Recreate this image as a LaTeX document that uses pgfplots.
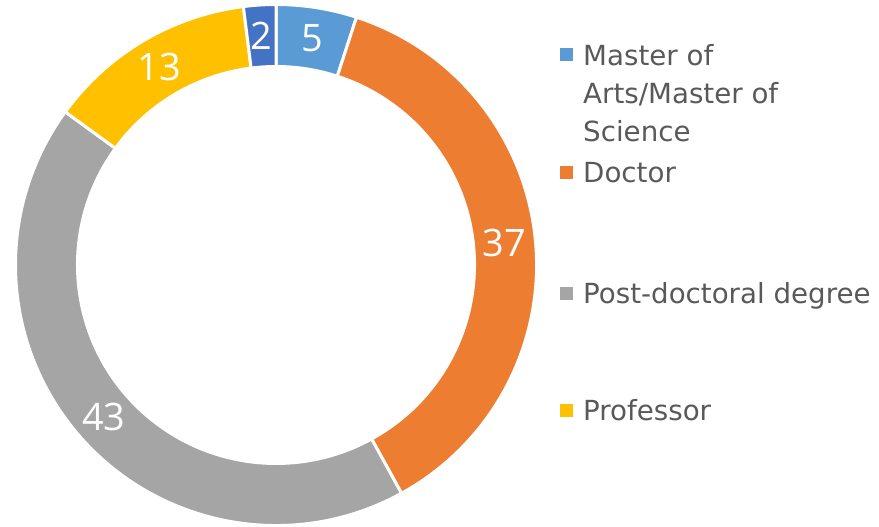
\documentclass[border=0pt]{standalone}
\usepackage{pgfplots}
\pgfplotsset{compat=1.18}
\usepackage{pgfplotstable}
\usepackage{fontspec}
\setmainfont{DejaVu Sans}
\newfontfamily\labelfamily{Open Sans}
\newcommand\labelfont{\labelfamily\fontsize{38}{44}\selectfont}
\newcommand\legfont{\fontsize{27.8}{37.5}\selectfont}
\definecolor{c1}{HTML}{5B9BD5}
\definecolor{c2}{HTML}{ED7D31}
\definecolor{c3}{HTML}{A5A5A5}
\definecolor{c4}{HTML}{FFC000}
\definecolor{c5}{HTML}{4472C4}
\definecolor{legtext}{HTML}{595959}

\pgfplotstableread{
value color
5 c1
37 c2
43 c3
13 c4
2 c5
}\datatable

\begin{document}
\begin{tikzpicture}
\begin{axis}[x=1bp, y=1bp, xmin=0, xmax=879, ymin=0, ymax=527,
  hide axis, clip=false, anchor=origin, at={(0,0)}]
\path (axis cs:0,0) rectangle (axis cs:879,527);
\def\acur{90}
\pgfplotsforeachungrouped \i in {0,...,4}{%
  \pgfplotstablegetelem{\i}{value}\of\datatable \let\val\pgfplotsretval
  \pgfplotstablegetelem{\i}{color}\of\datatable \let\col\pgfplotsretval
  \pgfmathsetmacro\anext{\acur-3.6*\val}%
  \pgfmathsetmacro\amid{(\acur+\anext)/2}%
  \edef\temp{%
    \noexpand\filldraw[fill=\col, draw=white, line width=3bp, line join=miter]
      (axis cs:276,262) ++(\acur:260.5bp)
      arc[start angle=\acur, end angle=\anext, radius=260.5bp]
      -- ++(\anext:-62bp)
      arc[start angle=\anext, end angle=\acur, radius=198.5bp] -- cycle;
    \noexpand\path (axis cs:276,262) ++(\amid:229.5bp)
      node[text=white, font=\noexpand\labelfont, inner sep=0pt] {\val};
  }%
  \temp
  \global\let\acur\anext
}
% legend
\fill[c1] (axis cs:559.5,466) rectangle (axis cs:572.5,479);
\node[anchor=base west, text=legtext, font=\legfont, inner sep=0pt]
  at (axis cs:583,461) {Master of};
\node[anchor=base west, text=legtext, font=\legfont, inner sep=0pt]
  at (axis cs:583,423) {Arts/Master of};
\node[anchor=base west, text=legtext, font=\legfont, inner sep=0pt]
  at (axis cs:583,385.5) {Science};
\fill[c2] (axis cs:559.5,347.5) rectangle (axis cs:572.5,360.5);
\node[anchor=base west, text=legtext, font=\legfont, inner sep=0pt]
  at (axis cs:583,344.5) {Doctor};
\fill[c3] (axis cs:559.5,226.5) rectangle (axis cs:572.5,239.5);
\node[anchor=base west, text=legtext, font=\legfont, inner sep=0pt]
  at (axis cs:583,224) {Post-doctoral degree};
\fill[c4] (axis cs:559.5,110) rectangle (axis cs:572.5,123);
\node[anchor=base west, text=legtext, font=\legfont, inner sep=0pt]
  at (axis cs:583,107) {Professor};
\end{axis}
\pgfresetboundingbox
\path (0,0) rectangle (879bp,527bp);
\end{tikzpicture}
\end{document}
